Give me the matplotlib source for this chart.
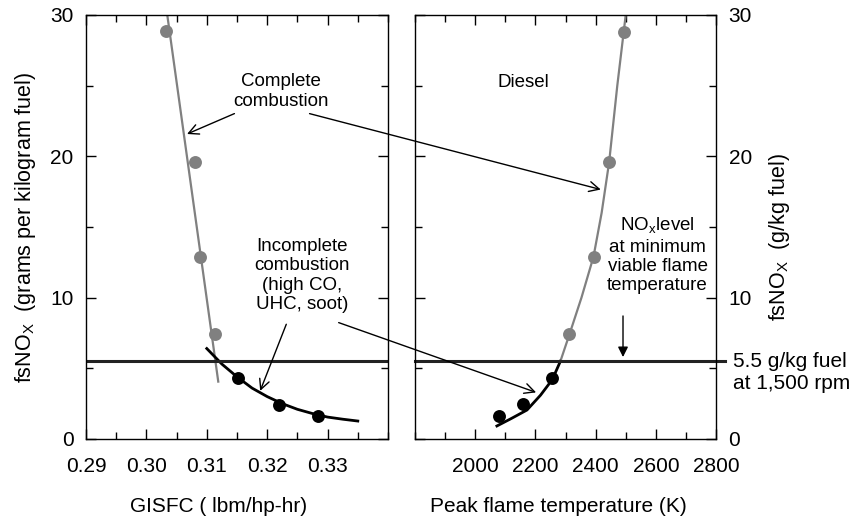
import matplotlib
matplotlib.use("Agg")
import matplotlib.pyplot as plt
from matplotlib.ticker import MultipleLocator, FixedLocator

plt.rcParams['font.family'] = ['Liberation Sans', 'DejaVu Sans']
plt.rcParams['font.size'] = 15

# ---- data: left panel (GISFC vs fsNOx) ----
gisfc_complete = [0.3032, 0.3081, 0.3088, 0.3114]
nox_complete_l = [28.9, 19.6, 12.86, 7.4]
gisfc_incomplete = [0.3151, 0.3220, 0.3284]
nox_incomplete_l = [4.3, 2.4, 1.63]
fit_complete_x = [0.30346, 0.3119]
fit_complete_y = [30.0, 4.06]
fit_incomplete_x = [0.310, 0.3125, 0.315, 0.3175, 0.320, 0.3225, 0.325, 0.3275, 0.330, 0.3325, 0.335]
fit_incomplete_y = [6.4, 5.3, 4.4, 3.6, 3.0, 2.5, 2.1, 1.8, 1.55, 1.4, 1.27]

# ---- data: right panel (peak flame temperature vs fsNOx) ----
temp_complete = [2313, 2393, 2445, 2493]
nox_complete_r = [7.4, 12.86, 19.6, 28.8]
temp_incomplete = [2080, 2159, 2256]
nox_incomplete_r = [1.63, 2.45, 4.3]
fit_gray_t = [2283, 2313, 2353, 2393, 2420, 2445, 2472, 2500]
fit_gray_y = [5.5, 7.4, 10.0, 12.9, 16.0, 19.6, 25.0, 30.0]
fit_black_t = [2072, 2120, 2172, 2217, 2256, 2283]
fit_black_y = [0.92, 1.45, 2.05, 3.1, 4.2, 5.5]

limit_nox = 5.5
xticks_left = [0.29, 0.30, 0.31, 0.32, 0.33]
xtick_labels_left = ['0.29', '0.30', '0.31', '0.32', '0.33']
xticks_right = [2000, 2200, 2400, 2600, 2800]
yticks = [0, 10, 20, 30]

GRAY = '#808080'
ANN = 13.5
fig = plt.figure(figsize=(8.52, 5.2), dpi=100)
axL = fig.add_axes([0.1009, 0.1558, 0.3545, 0.8154])
axR = fig.add_axes([0.4871, 0.1558, 0.3533, 0.8154])

for ax in (axL, axR):
    ax.set_ylim(0, 30)
    ax.yaxis.set_major_locator(FixedLocator(yticks))
    ax.yaxis.set_minor_locator(MultipleLocator(5))
    ax.tick_params(which='both', direction='in', top=True, right=True, bottom=True, left=True)
    ax.tick_params(which='major', length=7, width=1, labelsize=15)
    ax.tick_params(axis='x', which='major', pad=13)
    ax.tick_params(axis='y', which='major', pad=9)
    ax.tick_params(which='minor', length=5, width=1)
    for s in ax.spines.values():
        s.set_linewidth(1.0)

# left panel
axL.set_xlim(0.29, 0.34)
axL.set_xticks(xticks_left)
axL.set_xticklabels(xtick_labels_left)
axL.xaxis.set_minor_locator(MultipleLocator(0.005))
axL.plot(fit_complete_x, fit_complete_y, color=GRAY, lw=1.6)
axL.plot(fit_incomplete_x, fit_incomplete_y, color='black', lw=2)
axL.plot(gisfc_complete, nox_complete_l, 'o', color=GRAY, ms=9.3, mec='none')
axL.plot(gisfc_incomplete, nox_incomplete_l, 'o', color='black', ms=9.3, mec='none')
axL.axhline(limit_nox, color='#222222', lw=2.2)
axL.set_xlabel('GISFC ( lbm/hp-hr)', fontsize=15)
axL.xaxis.set_label_coords(0.44, -0.137)
axL.set_ylabel('fsNO$_\\mathregular{X}$  (grams per kilogram fuel)', fontsize=15.5, labelpad=9)

# right panel
axR.set_xlim(1800, 2800)
axR.set_xticks(xticks_right)
axR.xaxis.set_minor_locator(MultipleLocator(100))
axR.tick_params(labelleft=False, labelright=True)
axR.yaxis.set_label_position('right')
axR.plot(fit_gray_t, fit_gray_y, color=GRAY, lw=1.6)
axR.plot(fit_black_t, fit_black_y, color='black', lw=2)
axR.plot(temp_complete, nox_complete_r, 'o', color=GRAY, ms=9.3, mec='none')
axR.plot(temp_incomplete, nox_incomplete_r, 'o', color='black', ms=9.3, mec='none')
axR.plot([1800, 2830], [limit_nox, limit_nox], color='#222222', lw=2.2, clip_on=False)
axR.set_xlabel('Peak flame temperature (K)', fontsize=15)
axR.xaxis.set_label_coords(0.475, -0.137)
axR.set_ylabel('fsNO$_\\mathregular{X}$  (g/kg fuel)', fontsize=15.5)
axR.yaxis.set_label_coords(1.17, 0.476)

# annotations
axL.text(0.3223, 24.6, 'Complete\ncombustion', ha='center', va='center', fontsize=ANN, linespacing=1.22)
axL.annotate('', xy=(0.30631, 21.5), xytext=(0.3150, 23.1),
             arrowprops=dict(arrowstyle='->', lw=1, color='black', mutation_scale=18))
axR.annotate('', xy=(2426, 17.6), xycoords='data', xytext=(0.32657, 23.07), textcoords=axL.transData,
             arrowprops=dict(arrowstyle='->', lw=1, color='black', mutation_scale=18))

axL.text(0.3258, 11.57, 'Incomplete\ncombustion\n(high CO,\nUHC, soot)', ha='center', va='center',
         fontsize=ANN, linespacing=1.18)
axL.annotate('', xy=(0.31867, 3.22), xytext=(0.32333, 8.3),
             arrowprops=dict(arrowstyle='->', lw=1, color='black', mutation_scale=18))
axR.annotate('', xy=(2211, 3.23), xycoords='data', xytext=(0.3314, 8.3), textcoords=axL.transData,
             arrowprops=dict(arrowstyle='->', lw=1, color='black', mutation_scale=18))

axR.text(2161, 25.2, 'Diesel', ha='center', va='center', fontsize=ANN)
axR.text(2606, 13.0, 'NO$_\\mathregular{x}$level\nat minimum\nviable flame\ntemperature', ha='center', va='center',
         fontsize=ANN, linespacing=1.18)
axR.annotate('', xy=(2491, 5.6), xytext=(2491, 8.9),
             arrowprops=dict(arrowstyle='-|>', lw=1, color='black', mutation_scale=15))
axR.text(2856, 4.67, '5.5 g/kg fuel\nat 1,500 rpm', ha='left', va='center', fontsize=15,
         linespacing=1.2, transform=axR.transData, clip_on=False)

fig.savefig('out.png', dpi=100)
